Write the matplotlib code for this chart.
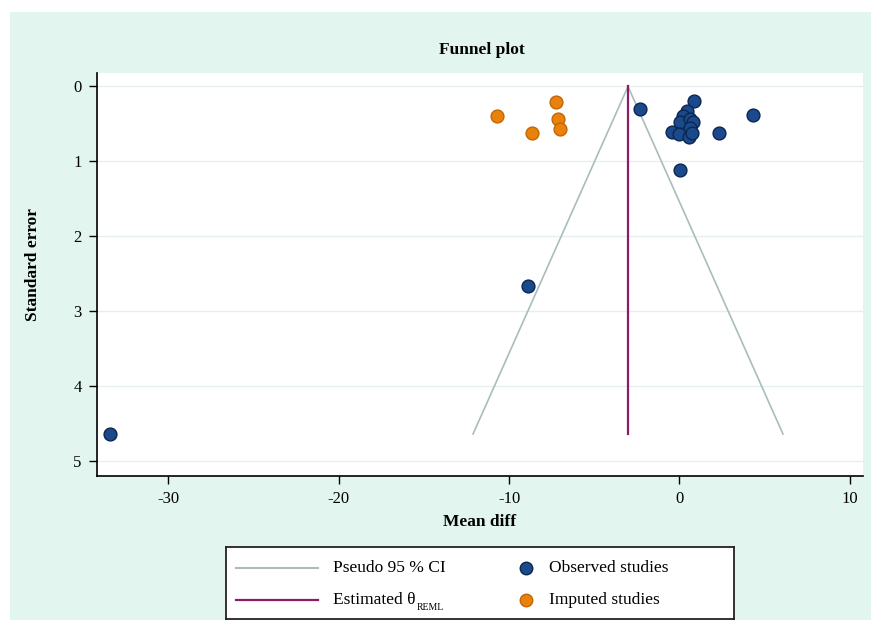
import numpy as np
import matplotlib
matplotlib.use('Agg')
import matplotlib.pyplot as plt
from matplotlib.patches import Rectangle
from matplotlib.lines import Line2D

# Observed studies (mean diff, standard error)
obs_x = [-33.4, -8.89, -2.32, 0.87, 4.33, 2.32, 0.03,
         0.42, 0.22, 0.03, 0.62, 0.81, 0.62, -0.44, -0.03, 0.56, 0.72]
obs_se = [4.64, 2.66, 0.30, 0.20, 0.38, 0.62, 1.11,
          0.33, 0.40, 0.47, 0.44, 0.47, 0.55, 0.61, 0.63, 0.67, 0.62]

# Imputed studies (trim and fill)
imp_x = [-10.73, -7.25, -7.15, -7.01, -8.67]
imp_se = [0.39, 0.21, 0.44, 0.57, 0.62]

theta = -3.02        # estimated theta (REML)
se_max = 4.64

x_ticks = [-30, -20, -10, 0, 10]
y_ticks = [0, 1, 2, 3, 4, 5]

MINT = '#e2f6ef'
NAVY = '#1a4a8c'
ORANGE = '#e8820c'
CI_GRAY = '#a9bdbd'
PURPLE = '#8b1d66'

plt.rcParams['font.family'] = ['Liberation Serif', 'DejaVu Serif']
plt.rcParams['axes.unicode_minus'] = False

W, H = 871, 620
fig = plt.figure(figsize=(W / 100, H / 100), dpi=100)
fig.patch.set_facecolor('white')
fig.add_artist(Rectangle((10 / W, 0), 1 - 10 / W, 1 - 12 / H,
                         transform=fig.transFigure, facecolor=MINT,
                         edgecolor='none', zorder=-1))

ax = fig.add_axes([97 / W, 1 - 476 / H, (863 - 97) / W, (476 - 73) / H])
ax.set_facecolor('white')

# pseudo 95% CI funnel
se_line = np.array([0, se_max])
ax.plot(theta - 1.96 * se_line, se_line, color=CI_GRAY, lw=1.2, zorder=2)
ax.plot(theta + 1.96 * se_line, se_line, color=CI_GRAY, lw=1.2, zorder=2)
ax.plot([theta, theta], [0, se_max], color=PURPLE, lw=1.6, zorder=2)

ax.scatter(obs_x, obs_se, s=85, color=NAVY, edgecolor='#0b2650',
           linewidth=1.0, zorder=4)
ax.scatter(imp_x, imp_se, s=85, color=ORANGE, edgecolor='#c46504',
           linewidth=1.0, zorder=4)

ax.set_xlim(-34.18, 10.77)
ax.set_ylim(5.2, -0.18)
ax.set_xticks(x_ticks)
ax.set_yticks(y_ticks)
ax.tick_params(axis='both', direction='out', length=6, width=1,
               labelsize=12, color='black', pad=5)
ax.grid(axis='y', color='#e6eeee', lw=1.0, zorder=0)
ax.set_axisbelow(True)
for s in ['top', 'right']:
    ax.spines[s].set_visible(False)
for s in ['left', 'bottom']:
    ax.spines[s].set_linewidth(1.2)

fig.text(482 / W, 1 - 50 / H, 'Funnel plot', ha='center', va='center',
         fontsize=12.5, fontweight='bold')
fig.text(480 / W, 1 - 522 / H, 'Mean diff', ha='center', va='center',
         fontsize=12.5, fontweight='bold')
fig.text(33 / W, 1 - 265 / H, 'Standard error', ha='center', va='center',
         fontsize=12.5, fontweight='bold', rotation=90)

# legend box drawn by hand
lx0, ly0, lw_, lh_ = 226, 547, 508, 72
lax = fig.add_axes([lx0 / W, 1 - (ly0 + lh_) / H, lw_ / W, lh_ / H])
lax.set_xlim(0, lw_)
lax.set_ylim(0, lh_)
lax.set_xticks([])
lax.set_yticks([])
lax.set_facecolor('white')
for s in lax.spines.values():
    s.set_linewidth(1.3)
    s.set_color('#222222')

r1, r2 = 51, 19
lax.add_line(Line2D([10, 92], [r1, r1], color=CI_GRAY, lw=1.5))
lax.add_line(Line2D([10, 92], [r2, r2], color=PURPLE, lw=1.6))
lax.text(107, r1, 'Pseudo 95 % CI', va='center', fontsize=12.5)
lax.text(107, r2, 'Estimated \u03b8', va='center', fontsize=12.5)
lax.text(191, r2 - 7, 'REML', va='center', fontsize=7)
lax.plot([300], [r1], 'o', ms=9, color=NAVY, mec='#0b2650')
lax.plot([300], [r2], 'o', ms=9, color=ORANGE, mec='#c46504')
lax.text(323, r1, 'Observed studies', va='center', fontsize=12.5)
lax.text(323, r2, 'Imputed studies', va='center', fontsize=12.5)

fig.savefig('out.png', dpi=100, facecolor=fig.get_facecolor())
